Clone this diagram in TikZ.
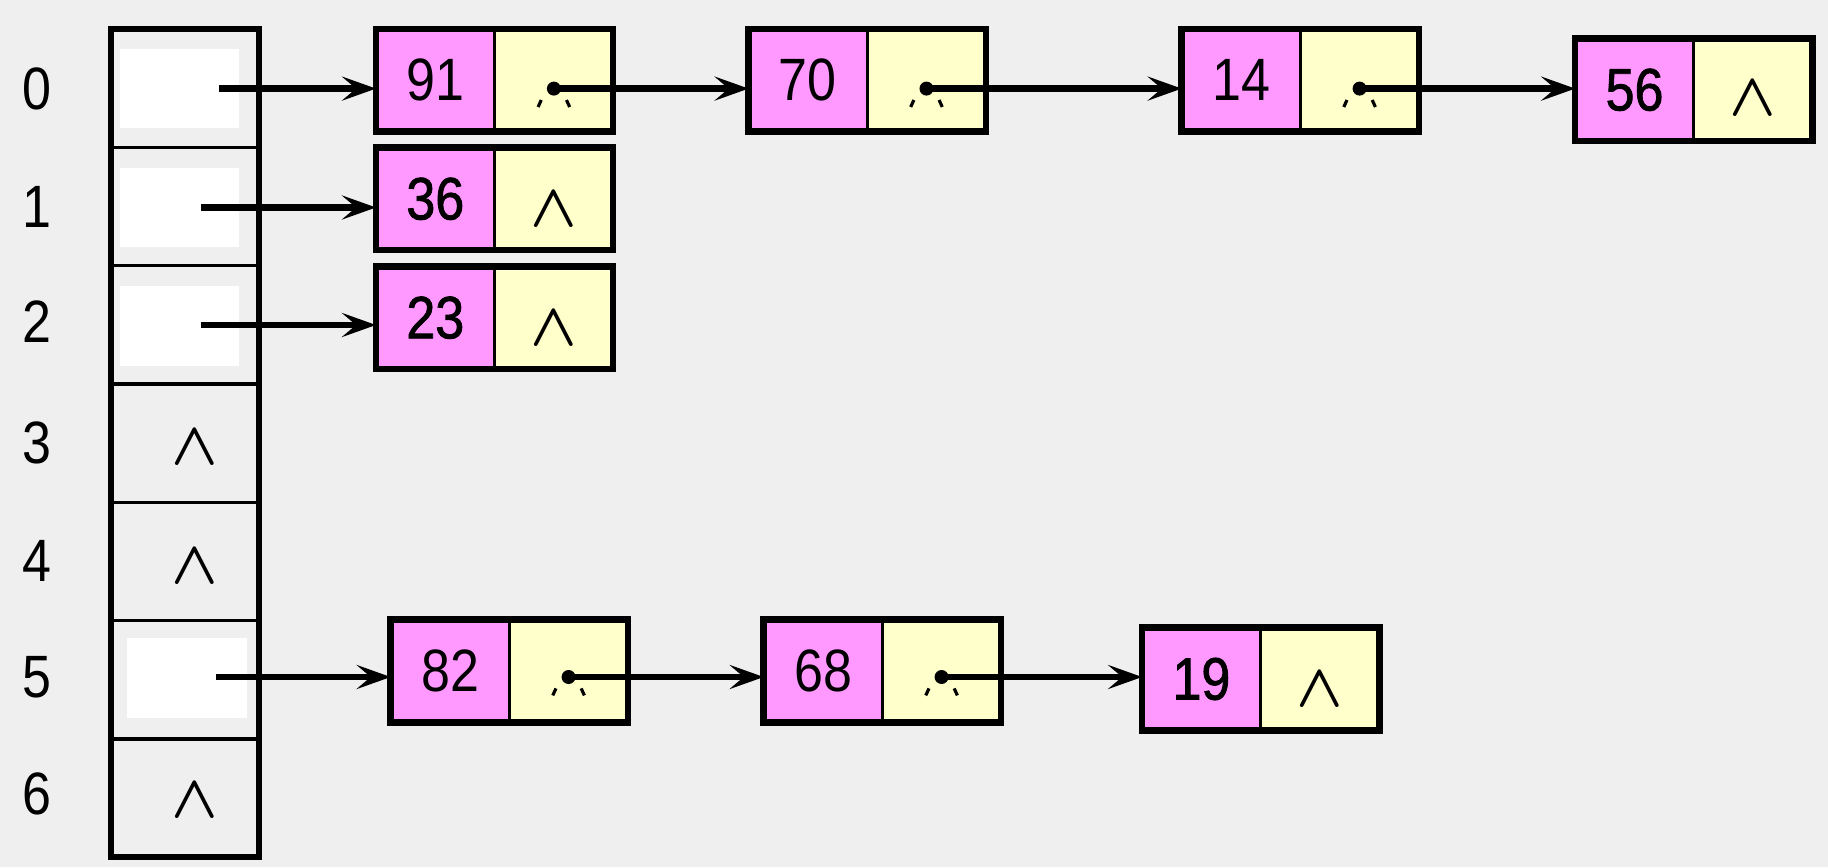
\documentclass[tikz,border=0pt]{standalone}
\usepackage{fontspec}
\setmainfont{Liberation Sans}[FakeStretch=0.87]
\newfontfamily\heavyfont{Liberation Sans}[FakeStretch=0.87,FakeBold=1.3]
\usetikzlibrary{arrows.meta,calc,positioning}
\definecolor{canvasfill}{HTML}{EFEFEF}
\definecolor{valuefill}{HTML}{FF99FF}
\definecolor{pointerfill}{HTML}{FFFFCC}
\definecolor{headfill}{HTML}{FFFFFF}
\tikzset{
  cellbase/.style={
    rectangle, draw=black, line width=0.95pt, outer sep=0pt, inner sep=0pt,
    minimum width=1.185cm, minimum height=1.025cm,
    font=\fontsize{17}{20}\selectfont
  },
  valuecell/.style={cellbase, fill=valuefill},
  pointercell/.style={cellbase, fill=pointerfill},
  listframe/.style={draw=black, line width=1.85pt},
  slot/.style={
    rectangle, draw=black, line width=0.95pt, outer sep=0pt, inner sep=0pt,
    minimum width=1.48cm, minimum height=1.183cm
  },
  slotframe/.style={draw=black, line width=1.85pt},
  headbox/.style={
    rectangle, fill=headfill, inner sep=0pt,
    minimum width=1.19cm, minimum height=0.79cm
  },
  indexlabel/.style={inner sep=0pt, font=\fontsize{17}{20}\selectfont},
  nullmark/.style={inner sep=0pt, font=\fontsize{17}{20}\selectfont\boldmath},
  link/.style={
    -{Stealth[length=3.4mm,width=2.4mm,inset=1.4mm]}, draw=black,
    line width=1.85pt
  },
  tickmark/.style={draw=black, line width=0.9pt}
}

\begin{document}
\begin{tikzpicture}[x=0.01cm,y=-0.01cm]
  \fill[canvasfill] (0,0) rectangle (1828,867);

  % Hash table slots.
  \node[slot] (s0) at (184.8,88.15) {};
  \node[slot] (s1) at (184.8,206.45) {};
  \node[slot] (s2) at (184.8,324.75) {};
  \node[slot] (s3) at (184.8,443.05) {};
  \node[slot] (s4) at (184.8,561.35) {};
  \node[slot] (s5) at (184.8,679.65) {};
  \node[slot] (s6) at (184.8,797.95) {};
  \draw[slotframe] (s0.north west) rectangle (s6.south east);

  \node[indexlabel] (i0) at (37,88.6) {0};
  \node[indexlabel] (i1) at (37,206.5) {1};
  \node[indexlabel] (i2) at (37,322) {2};
  \node[indexlabel] (i3) at (37,443) {3};
  \node[indexlabel] (i4) at (37,561) {4};
  \node[indexlabel] (i5) at (37,677) {5};
  \node[indexlabel] (i6) at (37,794) {6};

  \node[headbox] (h0) at (179.5,88.5) {};
  \node[headbox] (h1) at (179.5,207.5) {};
  \node[headbox] (h2) at (179.5,326) {};
  \node[headbox] (h5) at (187,678) {};
  \node[nullmark] (n3) at ($(s3)+(10,5)$) {$\wedge$};
  \node[nullmark] (n4) at ($(s4)+(10,5)$) {$\wedge$};
  \node[nullmark] (n6) at ($(s6)+(10,3)$) {$\wedge$};

  % Chain of slot 0.
  \node[valuecell] (v91) at (435.3,80.4) {91};
  \node[pointercell, right=0pt of v91] (p91) {};
  \draw[listframe] (v91.north west) rectangle (p91.south east);
  \node[valuecell] (v70) at (807.9,80.4) {70};
  \node[pointercell, right=0pt of v70] (p70) {};
  \draw[listframe] (v70.north west) rectangle (p70.south east);
  \node[valuecell] (v14) at (1241,80.4) {14};
  \node[pointercell, right=0pt of v14] (p14) {};
  \draw[listframe] (v14.north west) rectangle (p14.south east);
  \node[valuecell] (v56) at (1634.5,89.8) {\heavyfont 56};
  \node[pointercell, right=0pt of v56] (p56) {};
  \draw[listframe] (v56.north west) rectangle (p56.south east);

  % Slots 1 and 2.
  \node[valuecell] (v36) at (435.3,198.8) {\heavyfont 36};
  \node[pointercell, right=0pt of v36] (p36) {};
  \draw[listframe] (v36.north west) rectangle (p36.south east);
  \node[valuecell] (v23) at (435.3,317.7) {\heavyfont 23};
  \node[pointercell, right=0pt of v23] (p23) {};
  \draw[listframe] (v23.north west) rectangle (p23.south east);

  % Chain of slot 5.
  \node[valuecell] (v82) at (450,671) {82};
  \node[pointercell, right=0pt of v82] (p82) {};
  \draw[listframe] (v82.north west) rectangle (p82.south east);
  \node[valuecell] (v68) at (823,671) {68};
  \node[pointercell, right=0pt of v68] (p68) {};
  \draw[listframe] (v68.north west) rectangle (p68.south east);
  \node[valuecell] (v19) at (1201.4,679) {\heavyfont 19};
  \node[pointercell, right=0pt of v19] (p19) {};
  \draw[listframe] (v19.north west) rectangle (p19.south east);

  % Null pointers.
  \node[nullmark] (n56) at ($(p56)+(0,9)$) {$\wedge$};
  \node[nullmark] (n36) at ($(p36)+(0,11)$) {$\wedge$};
  \node[nullmark] (n23) at ($(p23)+(0,11)$) {$\wedge$};
  \node[nullmark] (n19) at ($(p19)+(0,11)$) {$\wedge$};

  % Pointer origins.
  \coordinate (a0) at (219,88.6);
  \coordinate (a1) at (200.5,207.5);
  \coordinate (a2) at (200.5,325);
  \coordinate (a5) at (215.7,677);
  \coordinate (d91) at ($(p91)+(0,8.2)$);
  \coordinate (d70) at ($(p70)+(0,8.2)$);
  \coordinate (d14) at ($(p14)+(0,8.2)$);
  \coordinate (d82) at ($(p82)+(0,6)$);
  \coordinate (d68) at ($(p68)+(0,6)$);
  \foreach \d in {d91,d70,d14,d82,d68} {
    \draw[tickmark] ($(\d)+(-12.6,11.4)$) -- ++(-3.2,7);
    \draw[tickmark] ($(\d)+(12.6,11.4)$) -- ++(3.2,7);
    \fill (\d) circle[radius=7];
  }

  \draw[link] (a0) -- (a0 -| v91.west);
  \draw[link] (a1) -- (a1 -| v36.west);
  \draw[link] (a2) -- (a2 -| v23.west);
  \draw[link] (a5) -- (a5 -| v82.west);
  \draw[link] (d91) -- (d91 -| v70.west);
  \draw[link] (d70) -- (d70 -| v14.west);
  \draw[link] (d14) -- (d14 -| v56.west);
  \draw[link] (d82) -- (d82 -| v68.west);
  \draw[link] (d68) -- (d68 -| v19.west);
\end{tikzpicture}
\end{document}
